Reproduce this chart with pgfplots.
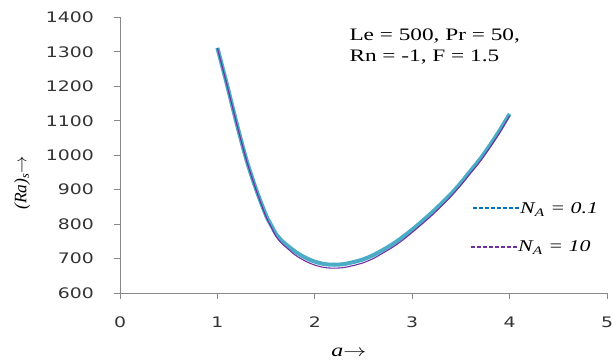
\documentclass[border=0pt]{standalone}
\usepackage{pgfplots}
\pgfplotsset{compat=1.18}
\usepackage{graphicx}
\usepackage{fontspec}
\setmainfont{Liberation Serif}
\newfontfamily\tickfont{DejaVu Sans}
\definecolor{cyanline}{HTML}{4BACC6}
\definecolor{purpleline}{HTML}{7030A0}
\definecolor{blueleg}{HTML}{0070C0}
\definecolor{axgray}{HTML}{888888}
\newcommand{\sx}[1]{\scalebox{1.33}[1]{#1}}
\begin{document}
\begin{tikzpicture}
\begin{axis}[
  scale only axis,
  width=487pt, height=275.5pt,
  xmin=0, xmax=5, ymin=600, ymax=1400,
  xtick={0,1,2,3,4,5},
  ytick={600,700,...,1400},
  axis x line=bottom, axis y line=left,
  axis line style={-, axgray, line width=0.9pt},
  tick style={axgray, line width=0.9pt},
  tick align=outside,
  major tick length=6pt,
  xticklabel style={yshift=-14pt},
  yticklabel style={xshift=-12pt},
  ticklabel style={font=\tickfont\fontsize{14.5}{14.5}\selectfont, text=black!80, xscale=1.3},
  /pgf/number format/assume math mode=true,
  /pgf/number format/1000 sep={},
  clip=false,
]
\addplot[cyanline, line width=4pt, smooth, tension=0.5] coordinates {
(1.0,1312) (1.1,1203) (1.2,1090) (1.3,985) (1.4,899) (1.5,825) (1.55,798) (1.6,772)
(1.65,755) (1.7,742) (1.8,720) (1.9,703) (2.0,691) (2.1,684) (2.2,682) (2.3,684)
(2.4,690) (2.5,698) (2.6,710) (2.7,725) (2.8,742) (2.9,762) (3.0,784) (3.1,808)
(3.2,833) (3.3,860) (3.4,888) (3.5,920) (3.6,955) (3.7,990) (3.8,1030) (3.9,1073) (4.0,1120)
};
\addplot[purpleline, line width=1.1pt, smooth, tension=0.5] coordinates {
(1.0,1311) (1.1,1202) (1.2,1089) (1.3,984) (1.4,897) (1.5,821) (1.55,793) (1.6,765)
(1.65,747) (1.7,734) (1.8,710) (1.9,693) (2.0,681) (2.1,674) (2.2,672) (2.3,674)
(2.4,680) (2.5,688) (2.6,700) (2.7,716) (2.8,733) (2.9,753) (3.0,776) (3.1,800)
(3.2,825) (3.3,852) (3.4,881) (3.5,913) (3.6,948) (3.7,983) (3.8,1023) (3.9,1066) (4.0,1114)
};
% legend (drawn as a key beside the curves)
\draw[blueleg, line width=1.4pt, dash pattern=on 4pt off 2pt] (rel axis cs:0.7248,0.3085) -- (rel axis cs:0.8214,0.3085);
\draw[purpleline, line width=1.4pt, dash pattern=on 4pt off 2pt] (rel axis cs:0.7207,0.1663) -- (rel axis cs:0.8173,0.1663);
\node[anchor=base west, inner sep=0pt, font=\fontsize{16.5}{18}\selectfont\itshape] at (rel axis cs:0.8214,0.2868) {\sx{N\textsubscript{A} = 0.1}};
\node[anchor=base west, inner sep=0pt, font=\fontsize{16.5}{18}\selectfont\itshape] at (rel axis cs:0.8173,0.1488) {\sx{N\textsubscript{A} = 10}};
\node[anchor=base west, font=\fontsize{17.5}{20}\selectfont] at (axis cs:2.32,1333) {\sx{Le = 500, Pr = 50,}};
\node[anchor=base west, font=\fontsize{17.5}{20}\selectfont] at (axis cs:2.32,1272) {\sx{Rn = -1, F = 1.5}};
\node[rotate=90, anchor=center, font=\fontsize{17.5}{20}\selectfont] at (rel axis cs:-0.201,0.40) {\itshape (Ra)\textsubscript{s}\upshape$\rightarrow$};
\node[anchor=center, font=\fontsize{18}{20}\selectfont] at (rel axis cs:0.47,-0.215) {\sx{\itshape a\upshape$\rightarrow$}};
\coordinate (A) at (rel axis cs:-0.2464,-0.2541);
\coordinate (B) at (rel axis cs:1.0123,1.0635);
\end{axis}
\pgfresetboundingbox
\path[use as bounding box] (A) rectangle (B);
\end{tikzpicture}
\end{document}
